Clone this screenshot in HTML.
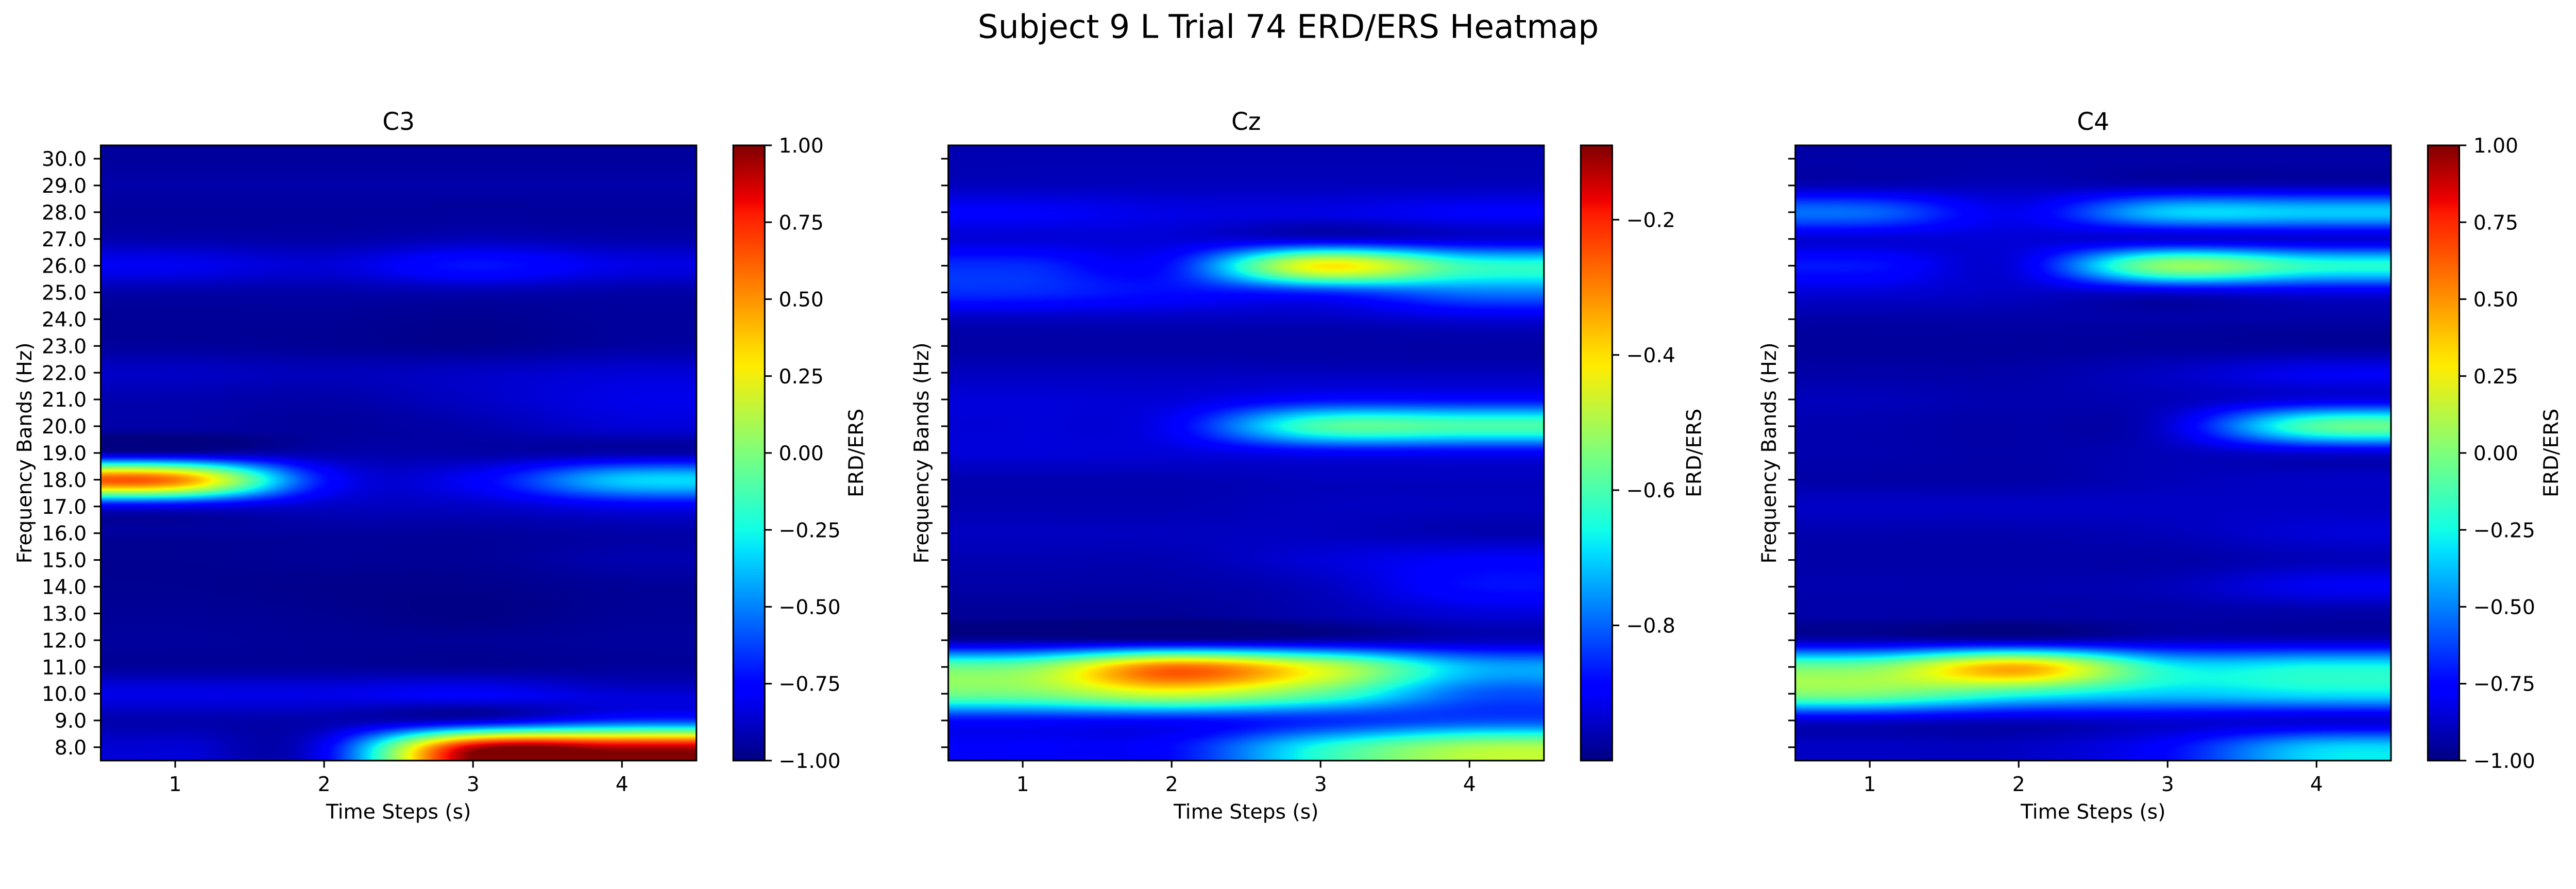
<!DOCTYPE html>
<html><head><meta charset="utf-8">
<meta name="viewport" content="width=5319, initial-scale=1">
<style>
html,body{margin:0;padding:0;background:#fff;width:5319px;height:1725px;overflow:hidden;}
#wrap{position:relative;width:5319px;height:1725px;overflow:hidden;font-family:"DejaVu Sans","Liberation Sans",sans-serif;transform-origin:0 0;}
canvas{position:absolute;}
svg{position:absolute;left:0;top:0;}
</style></head>
<body>
<div id="wrap">
<canvas id="hm0"></canvas>
<canvas id="hm1"></canvas>
<canvas id="hm2"></canvas>
<svg id="svg" width="5319" height="1725">
<defs>
<linearGradient id="jet" x1="0" y1="1" x2="0" y2="0">
<stop offset="0" stop-color="#000080"/><stop offset="0.11" stop-color="#0000ff"/>
<stop offset="0.125" stop-color="#0000ff"/><stop offset="0.34" stop-color="#00e0ff"/>
<stop offset="0.375" stop-color="#10ffe6"/><stop offset="0.5" stop-color="#7dff7a"/>
<stop offset="0.64" stop-color="#ffec00"/><stop offset="0.66" stop-color="#ffe000"/>
<stop offset="0.89" stop-color="#ff1a00"/><stop offset="0.91" stop-color="#f00000"/>
<stop offset="1" stop-color="#800000"/>
</linearGradient>
</defs>
<text x="2660" y="78" font-size="67" text-anchor="middle">Subject 9 L Trial 74 ERD/ERS Heatmap</text>
</svg>
</div>
<script>
// ---- data ----
const freqs = [8,9,10,11,12,13,14,15,16,17,18,19,20,21,22,23,24,25,26,27,28,29,30];
const timeSteps = [1,2,3,4];
const channels = ["C3","Cz","C4"];
const c3Values = [
[-0.85,-0.78,0.88,0.90],[-0.92,-0.92,-0.85,-0.65],[-0.82,-0.82,-0.78,-0.85],[-0.95,-0.95,-0.96,-0.95],
[-0.95,-0.96,-0.96,-0.95],[-0.96,-0.97,-0.99,-0.96],[-0.97,-0.98,-0.98,-0.96],[-0.97,-0.96,-0.96,-0.92],
[-0.95,-0.95,-0.95,-0.93],[-0.80,-0.88,-0.88,-0.80],[0.55,-0.72,-0.78,-0.35],[-0.92,-0.92,-0.93,-0.92],
[-0.93,-0.95,-0.92,-0.85],[-0.92,-0.93,-0.88,-0.82],[-0.88,-0.90,-0.88,-0.85],[-0.95,-0.96,-0.97,-0.94],
[-0.96,-0.96,-0.97,-0.95],[-0.93,-0.93,-0.92,-0.93],[-0.80,-0.85,-0.72,-0.82],[-0.92,-0.93,-0.90,-0.92],
[-0.95,-0.95,-0.95,-0.95],[-0.93,-0.93,-0.93,-0.93],[-0.95,-0.95,-0.95,-0.95]];
const czValues = [
[-0.90,-0.88,-0.65,-0.50],[-0.88,-0.88,-0.85,-0.82],[-0.55,-0.45,-0.58,-0.80],[-0.55,-0.28,-0.45,-0.72],
[-0.97,-0.97,-0.96,-0.95],[-0.98,-0.98,-0.96,-0.93],[-0.97,-0.97,-0.95,-0.88],[-0.96,-0.96,-0.93,-0.90],
[-0.95,-0.95,-0.95,-0.96],[-0.96,-0.96,-0.95,-0.95],[-0.96,-0.96,-0.95,-0.95],[-0.93,-0.93,-0.90,-0.90],
[-0.93,-0.90,-0.60,-0.60],[-0.93,-0.93,-0.88,-0.88],[-0.95,-0.95,-0.95,-0.95],[-0.97,-0.97,-0.97,-0.97],
[-0.95,-0.95,-0.95,-0.93],[-0.85,-0.88,-0.85,-0.78],[-0.85,-0.87,-0.40,-0.62],[-0.93,-0.93,-0.93,-0.93],
[-0.90,-0.92,-0.92,-0.90],[-0.95,-0.95,-0.95,-0.95],[-0.96,-0.96,-0.96,-0.96]];
const c4Values = [
[-0.88,-0.88,-0.75,-0.35],[-0.85,-0.88,-0.85,-0.85],[0.00,-0.20,-0.35,-0.30],[0.00,0.45,-0.25,-0.25],
[-0.90,-0.90,-0.88,-0.88],[-0.93,-0.93,-0.93,-0.93],[-0.92,-0.92,-0.90,-0.80],[-0.93,-0.93,-0.93,-0.90],
[-0.92,-0.92,-0.90,-0.85],[-0.88,-0.88,-0.88,-0.88],[-0.93,-0.93,-0.90,-0.88],[-0.92,-0.93,-0.90,-0.85],
[-0.92,-0.93,-0.85,-0.10],[-0.90,-0.92,-0.90,-0.82],[-0.93,-0.93,-0.88,-0.80],[-0.95,-0.95,-0.95,-0.95],
[-0.93,-0.93,-0.93,-0.93],[-0.85,-0.88,-0.85,-0.82],[-0.72,-0.82,0.05,-0.20],[-0.85,-0.85,-0.85,-0.85],
[-0.55,-0.80,-0.35,-0.35],[-0.90,-0.90,-0.90,-0.90],[-0.93,-0.93,-0.93,-0.93]];
const vmins = [-1.0,-1.0,-1.0];
const vmaxs = [1.0,-0.09,1.0];
const c3CbarTicks = [-1.00,-0.75,-0.50,-0.25,0.00,0.25,0.50,0.75,1.00];
const czCbarTicks = [-0.8,-0.6,-0.4,-0.2];
const c4CbarTicks = [-1.00,-0.75,-0.50,-0.25,0.00,0.25,0.50,0.75,1.00];
const xTicks = [1,2,3,4];

(function(){const s=Math.min(window.innerWidth/5319,window.innerHeight/1725);
 if(s>0&&s<0.999){document.getElementById('wrap').style.transform='scale('+s+')';}})();

const allValues=[c3Values,czValues,c4Values];
const cbarTicks=[c3CbarTicks,czCbarTicks,c4CbarTicks];
const cbarDigits=[2,1,2];
const axLeft=[208,1958,3707], AW=1230, AT=300, AH=1270, CBO=76, CBW=65;
const NS="http://www.w3.org/2000/svg";
const svg=document.getElementById('svg');
function mk(tag,attrs,parent){const e=document.createElementNS(NS,tag);for(const k in attrs)e.setAttribute(k,attrs[k]);(parent||svg).appendChild(e);return e;}
function jetc(f){f=Math.max(0,Math.min(1,f));
 function seg(p){for(let i=0;i<p.length-1;i++){if(f<=p[i+1][0]){const t=(f-p[i][0])/(p[i+1][0]-p[i][0]);return p[i][1]+t*(p[i+1][1]-p[i][1]);}}return p[p.length-1][1];}
 return [seg([[0,0],[0.35,0],[0.66,1],[0.89,1],[1,0.5]]),seg([[0,0],[0.125,0],[0.375,1],[0.64,1],[0.91,0],[1,0]]),seg([[0,0.5],[0.11,1],[0.34,1],[0.65,0],[1,0]])];}
function cub(x){x=Math.abs(x);const a=-0.5;if(x<1)return (a+2)*x*x*x-(a+3)*x*x+1;if(x<2)return a*x*x*x-5*a*x*x+8*a*x-4*a;return 0;}
const nR=freqs.length,nC=timeSteps.length;
const tx=(ax,t)=>axLeft[ax]+(t-0.5)/nC*AW;
const fy=f=>AT+(freqs[freqs.length-1]+0.5-f)/nR*AH;

for(let k=0;k<3;k++){
 const cv=document.getElementById('hm'+k);
 const W=615,H=635;cv.width=W;cv.height=H;
 cv.style.left=axLeft[k]+'px';cv.style.top=AT+'px';cv.style.width=AW+'px';cv.style.height=AH+'px';
 const ctx=cv.getContext('2d');const img=ctx.createImageData(W,H);
 const V=allValues[k],vmin=vmins[k],vmax=vmaxs[k];
 const g=(r,c)=>V[Math.max(0,Math.min(nR-1,r))][Math.max(0,Math.min(nC-1,c))];
 for(let py=0;py<H;py++){
  const ry=(nR-1)-((py+0.5)/H*nR-0.5);
  const r0=Math.floor(ry);const wy=[];for(let j=-1;j<=2;j++)wy.push(cub(ry-(r0+j)));
  for(let px=0;px<W;px++){
   const cx=(px+0.5)/W*nC-0.5;const c0=Math.floor(cx);let s=0;
   for(let i=-1;i<=2;i++){const wx=cub(cx-(c0+i));if(!wx)continue;
    for(let j=-1;j<=2;j++){s+=wx*wy[j+1]*g(r0+j,c0+i);}}
   const col=jetc((s-vmin)/(vmax-vmin));const o=(py*W+px)*4;
   img.data[o]=col[0]*255;img.data[o+1]=col[1]*255;img.data[o+2]=col[2]*255;img.data[o+3]=255;
  }}
 ctx.putImageData(img,0,0);

 const L=axLeft[k];
 const frame=mk('rect',{x:L,y:AT,width:AW,height:AH,fill:'none',stroke:'#000','stroke-width':3.3});
 
 
 const ti=mk('text',{x:L+AW/2,y:268,'font-size':50,'text-anchor':'middle'});ti.textContent=channels[k];
 
 
 freqs.forEach(f=>{const y=fy(f);
  const tk=mk('line',{x1:L-14.6,x2:L,y1:y,y2:y,stroke:'#000','stroke-width':3.3});
  
  
  if(k===0){const tl=mk('text',{x:L-29,y:y+15,'font-size':41.7,'text-anchor':'end'});tl.textContent=f.toFixed(1);
   
   }
 });
 xTicks.forEach(t=>{const x=tx(k,t);
  const tk=mk('line',{x1:x,x2:x,y1:AT+AH,y2:AT+AH+14.6,stroke:'#000','stroke-width':3.3});
  
  
  const tl=mk('text',{x:x,y:1633,'font-size':41.7,'text-anchor':'middle'});tl.textContent=t;
  
  
 });
 const xl=mk('text',{x:L+AW/2,y:1690,'font-size':41.7,'text-anchor':'middle'});xl.textContent='Time Steps (s)';
 
 
 const ylx=[65,1917,3667][k];
 const yl=mk('text',{x:ylx,y:AT+AH/2,'font-size':41.7,'text-anchor':'middle',transform:`rotate(-90 ${ylx} ${AT+AH/2})`});yl.textContent='Frequency Bands (Hz)';
 
 
 const CL=L+AW+CBO;
 const cb=mk('rect',{x:CL,y:AT,width:CBW,height:AH,fill:'url(#jet)',stroke:'#000','stroke-width':3.3});
 
 
 cbarTicks[k].forEach(v=>{const y=AT+(vmax-v)/(vmax-vmin)*AH;
  const tk=mk('line',{x1:CL+CBW,x2:CL+CBW+14.6,y1:y,y2:y,stroke:'#000','stroke-width':3.3});
  
  
  const tl=mk('text',{x:CL+CBW+29,y:y+15,'font-size':41.7});tl.textContent=(v<0?'\u2212':'')+Math.abs(v).toFixed(cbarDigits[k]);
  
  
 });
 const clx=[1782,3512,5282][k];
 const cl=mk('text',{x:clx,y:AT+AH/2,'font-size':41.7,'text-anchor':'middle',transform:`rotate(-90 ${clx} ${AT+AH/2})`});cl.textContent='ERD/ERS';
 
 
}
</script>
</body></html>
